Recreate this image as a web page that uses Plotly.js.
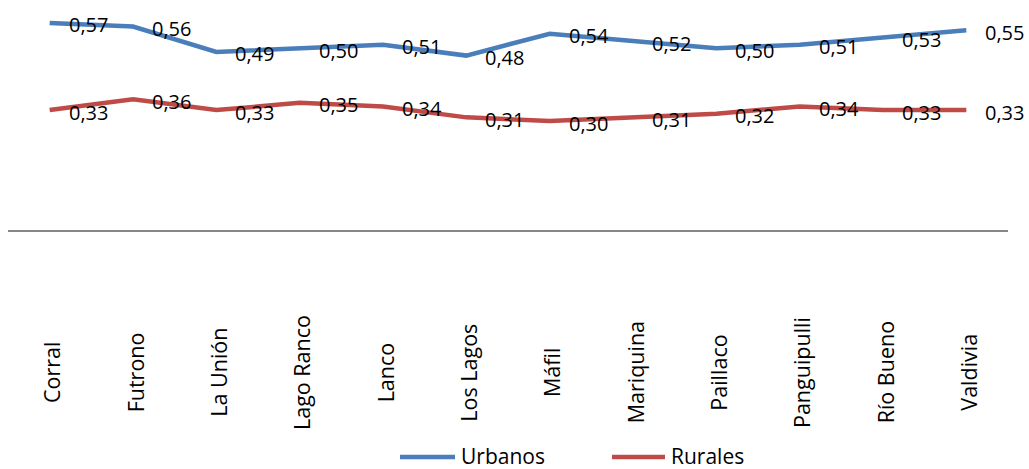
<!DOCTYPE html>
<html>
<head>
<meta charset="utf-8">
<script src="https://cdn.plot.ly/plotly-3.0.1.min.js"></script>
<style>
  html, body { margin: 0; padding: 0; background: #ffffff; }
  #chart { width: 1029px; height: 469px; }
</style>
</head>
<body>
<div id="chart"></div>
<script>
// Comunas de la Región de Los Ríos
const categories = ['Corral', 'Futrono', 'La Unión', 'Lago Ranco', 'Lanco', 'Los Lagos',
                    'Máfil', 'Mariquina', 'Paillaco', 'Panguipulli', 'Río Bueno', 'Valdivia'];
const urbanos = [0.57, 0.56, 0.49, 0.50, 0.51, 0.48, 0.54, 0.52, 0.50, 0.51, 0.53, 0.55];
const rurales = [0.33, 0.36, 0.33, 0.35, 0.34, 0.31, 0.30, 0.31, 0.32, 0.34, 0.33, 0.33];
const seriesNames = ['Urbanos', 'Rurales'];
const seriesColors = ['#4A7EBB', '#BE4B48'];

const FONT = 'Open Sans, Liberation Sans, sans-serif';
const fmt = v => v.toFixed(2).replace('.', ',');
const idx = categories.map((_, i) => i);

const series = [urbanos, rurales];

const traces = series.map((vals, s) => ({
  type: 'scatter',
  mode: 'lines',
  x: idx,
  y: vals,
  name: seriesNames[s],
  line: { color: seriesColors[s], width: 4.5 },
  hoverinfo: 'skip',
  showlegend: false
}));

const annotations = [];

// value labels to the right of each point
series.forEach(vals => {
  vals.forEach((v, i) => {
    annotations.push({
      x: i, y: v, xref: 'x', yref: 'y',
      text: fmt(v), showarrow: false,
      xanchor: 'left', yanchor: 'middle',
      xshift: 17, yshift: -2,
      font: { family: FONT, size: 20, color: '#000000' }
    });
  });
});

// rotated category names below the axis, centred on a common line
categories.forEach((c, i) => {
  annotations.push({
    x: i, y: -0.653, xref: 'x', yref: 'paper',
    text: c, showarrow: false, textangle: -90,
    xanchor: 'center', yanchor: 'middle',
    xshift: 2,
    font: { family: FONT, size: 21.5, color: '#000000' }
  });
});

// legend: line sample + series name
const legendPos = [
  { x0: 0.392, x1: 0.447, tx: 0.451 },
  { x0: 0.604, x1: 0.657, tx: 0.661 }
];
const legendY = -1.041;
const shapes = [];
seriesNames.forEach((n, s) => {
  const p = legendPos[s];
  shapes.push({
    type: 'line', xref: 'paper', yref: 'paper',
    x0: p.x0, x1: p.x1, y0: legendY, y1: legendY,
    line: { color: seriesColors[s], width: 4.5 }
  });
  annotations.push({
    x: p.tx, y: legendY, xref: 'paper', yref: 'paper',
    text: n, showarrow: false, xanchor: 'left', yanchor: 'middle',
    yshift: 1,
    font: { family: FONT, size: 21, color: '#000000' }
  });
});

const layout = {
  width: 1029,
  height: 469,
  margin: { l: 8, r: 21, t: 12, b: 239, pad: 0 },
  paper_bgcolor: '#ffffff',
  plot_bgcolor: '#ffffff',
  showlegend: false,
  xaxis: {
    range: [-0.5, categories.length - 0.5],
    showline: true, linecolor: '#868686', linewidth: 2,
    showgrid: false, zeroline: false, ticks: '', showticklabels: false,
    fixedrange: true
  },
  yaxis: {
    range: [0, 0.6],
    visible: false, showgrid: false, zeroline: false,
    fixedrange: true
  },
  shapes: shapes,
  annotations: annotations
};

Plotly.newPlot('chart', traces, layout, { staticPlot: true, displayModeBar: false });
</script>
</body>
</html>
